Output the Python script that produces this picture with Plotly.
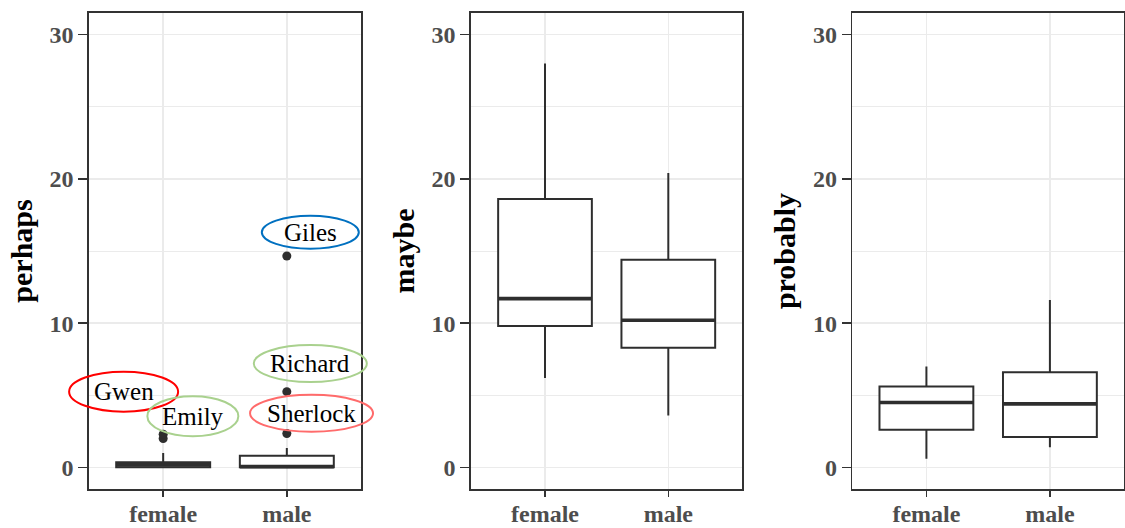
import plotly.graph_objects as go

# ---------------- data ----------------
categories = ["female", "male"]
cat_pos = [1, 2]

panels = ["perhaps", "maybe", "probably"]

perhaps_q1 = [0.0, 0.0]
perhaps_med = [0.17, 0.05]
perhaps_q3 = [0.35, 0.8]
perhaps_lo = [0.0, 0.0]
perhaps_hi = [1.0, 1.35]
perhaps_out_female = [2.0, 2.3]
perhaps_out_male = [2.35, 5.25, 14.65]

maybe_q1 = [9.8, 8.3]
maybe_med = [11.7, 10.2]
maybe_q3 = [18.6, 14.4]
maybe_lo = [6.2, 3.6]
maybe_hi = [28.0, 20.4]

probably_q1 = [2.6, 2.1]
probably_med = [4.5, 4.4]
probably_q3 = [5.6, 6.6]
probably_lo = [0.6, 1.4]
probably_hi = [7.0, 11.6]

y_ticks = [0, 10, 20, 30]

label_names = ["Giles", "Richard", "Sherlock", "Gwen", "Emily"]
label_x = [2.19, 2.19, 2.2, 0.68, 1.24]
label_y = [16.3, 7.2, 3.75, 5.25, 3.55]

# ---------------- styles ----------------
label_colors = ["#0070C0", "#A9D18E", "#FF6B6B", "#FF0000", "#A9D18E"]
label_sizes = [(97, 33), (113, 37), (123, 37), (109, 40), (91, 40)]

stats = {
    "perhaps": (perhaps_q1, perhaps_med, perhaps_q3, perhaps_lo, perhaps_hi),
    "maybe": (maybe_q1, maybe_med, maybe_q3, maybe_lo, maybe_hi),
    "probably": (probably_q1, probably_med, probably_q3, probably_lo, probably_hi),
}
outliers = {"perhaps": [perhaps_out_female, perhaps_out_male]}

domains = [(0.0, 0.2628), (0.3691, 0.6312), (0.7375, 1.0)]
XR = [0.4, 2.6]
YR = [-1.5, 31.5]
BOXW = 0.76
LINE = "#2E2E2E"
SERIF = "Liberation Serif"

fig = go.Figure()

for pi, name in enumerate(panels):
    sfx = "" if pi == 0 else str(pi + 1)
    xa, ya = "x" + sfx, "y" + sfx
    q1, med, q3, lo, hi = stats[name]
    for ci in range(len(categories)):
        fig.add_trace(go.Box(
            x=[cat_pos[ci]], q1=[q1[ci]], median=[med[ci]], q3=[q3[ci]],
            lowerfence=[lo[ci]], upperfence=[hi[ci]],
            width=BOXW, whiskerwidth=0, fillcolor="white", boxpoints=False,
            line=dict(color=LINE, width=2),
            xaxis=xa, yaxis=ya, showlegend=False, hoverinfo="skip"))
        # thicker median line (ggplot style)
        fig.add_trace(go.Scatter(
            x=[cat_pos[ci] - BOXW / 2, cat_pos[ci] + BOXW / 2],
            y=[med[ci], med[ci]], mode="lines",
            line=dict(color=LINE, width=3.6),
            xaxis=xa, yaxis=ya, showlegend=False, hoverinfo="skip"))
        if name in outliers:
            pts = outliers[name][ci]
            fig.add_trace(go.Scatter(
                x=[cat_pos[ci]] * len(pts), y=pts, mode="markers",
                marker=dict(color=LINE, size=9),
                xaxis=xa, yaxis=ya, showlegend=False, hoverinfo="skip"))

    axis_common = dict(showline=True, mirror=True, linecolor="#333333", linewidth=1.6,
                       ticks="outside", tickcolor="#333333", tickwidth=1.6,
                       showgrid=True, gridcolor="#EBEBEB", gridwidth=1.5,
                       zeroline=False, automargin=False,
                       tickfont=dict(family=SERIF, size=24, color="#4D4D4D", weight="bold"))
    fig.layout["xaxis" + sfx] = dict(
        domain=list(domains[pi]), range=XR, anchor=ya,
        tickvals=cat_pos, ticktext=categories, ticklen=6,
        ticklabelstandoff=-3, **axis_common)
    fig.layout["yaxis" + sfx] = dict(
        domain=[0, 1], range=YR, anchor=xa,
        tickvals=y_ticks, ticklen=9,
        minor=dict(dtick=5, tick0=0, showgrid=True, gridcolor="#EBEBEB", gridwidth=1, ticks=""),
        title=dict(text=name, font=dict(family=SERIF, size=30, color="black", weight="bold"),
                   standoff=8),
        **axis_common)

# labels with ellipses (panel 1)
d0, d1 = domains[0]
for nm, lx, ly, col, (w, h) in zip(label_names, label_x, label_y, label_colors, label_sizes):
    px = d0 + (lx - XR[0]) / (XR[1] - XR[0]) * (d1 - d0)
    py = (ly - YR[0]) / (YR[1] - YR[0])
    fig.add_shape(type="circle", xref="paper", yref="paper",
                  xsizemode="pixel", ysizemode="pixel",
                  xanchor=px, yanchor=py,
                  x0=-w / 2, x1=w / 2, y0=-h / 2, y1=h / 2,
                  line=dict(color=col, width=2), fillcolor="rgba(0,0,0,0)")
    fig.add_annotation(x=px, y=py, xref="paper", yref="paper", text=nm,
                       showarrow=False, xanchor="center", yanchor="middle",
                       font=dict(family=SERIF, size=25, color="black"))

fig.update_layout(width=1125, height=528,
                  margin=dict(l=89, r=1, t=13, b=39, autoexpand=False),
                  paper_bgcolor="white", plot_bgcolor="white",
                  showlegend=False)

# remove the default 8px page margin so the figure fills the window exactly
fig.write_html("out.html",
               config={"displayModeBar": False, "staticPlot": True},
               post_script="document.body.style.margin='0';document.body.style.overflow='hidden';")
